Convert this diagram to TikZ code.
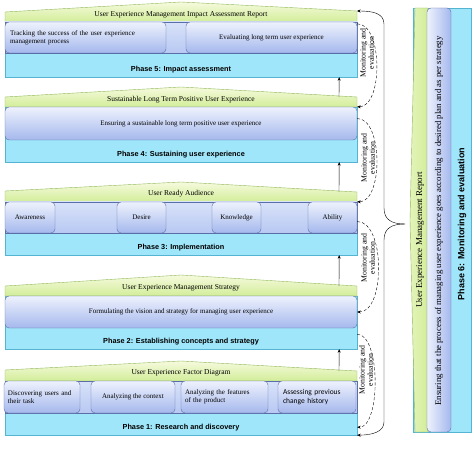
\documentclass[tikz,border=0pt]{standalone}
\usepackage{fontspec}
\setmainfont{Liberation Serif}
\newfontfamily\phasefont{Liberation Sans}
\newfontfamily\calfont{Carlito}
\usetikzlibrary{arrows.meta}

\definecolor{cyanfill}{RGB}{160,230,250}
\definecolor{cyanedge}{RGB}{85,180,210}
\definecolor{greentop}{RGB}{246,250,222}
\definecolor{greenbot}{RGB}{210,237,152}
\definecolor{greenedge}{RGB}{145,185,90}
\definecolor{boxtop}{RGB}{238,242,253}
\definecolor{boxbot}{RGB}{165,184,237}
\definecolor{boxedge}{RGB}{90,110,168}
\definecolor{bandtop}{RGB}{216,226,249}
\definecolor{bandbot}{RGB}{184,200,242}

\tikzset{
  phasebase/.style={draw=cyanedge, fill=cyanfill, inner sep=0pt},
  phasehead/.style={draw=greenedge, top color=greentop, bottom color=greenbot},
  phaseband/.style={draw=boxedge, top color=bandtop, bottom color=bandbot, inner sep=0pt},
  ubox/.style={draw=boxedge, top color=boxtop, bottom color=boxbot, rounded corners=4pt,
    inner sep=1pt, align=center, font=\fontsize{7}{8}\selectfont},
  sidebox/.style={draw=boxedge, left color=boxtop, right color=boxbot, rounded corners=4pt, inner sep=0pt},
  headtext/.style={font=\fontsize{7.5}{9}\selectfont},
  plabel/.style={font=\phasefont\bfseries\fontsize{7.3}{9}\selectfont},
  evaltext/.style={rotate=90, align=center, inner sep=0pt, font=\fontsize{7.8}{8.3}\selectfont},
  evalarc/.style={draw, densely dashed, -{Stealth[length=3.5pt,width=3pt]}},
  uparrow/.style={draw, -{Stealth[length=3.5pt,width=3pt]}},
  bracearrow/.style={draw, -{Stealth[length=3.5pt,width=3pt]}}
}

\begin{document}
\begin{tikzpicture}[x=1pt,y=-1pt]
  \useasboundingbox (0,0) rectangle (474,465);

  % Phase 6
  \node[phasebase, minimum width=58pt, minimum height=424pt] (ph6) at (442,220) {};
  \draw[draw=greenedge, left color=greentop!50!greenbot, right color=greenbot] (415,8) -- (410,220) -- (415,432) -- (428,432) -- (428,8) -- cycle;
  \node[sidebox, minimum width=24pt, minimum height=424pt] (b6) at (439,220) {};
  \node[rotate=90, font=\fontsize{9}{10}\selectfont] (r6) at (420,240) {User Experience Management Report};
  \node[rotate=90, font=\fontsize{8.8}{10}\selectfont] (e6) at (439,221) {Ensuring that the process of managing user experience goes according to desired plan and as per strategy};
  \node[rotate=90, font=\phasefont\bfseries\fontsize{9}{11}\selectfont] (l6) at (462,224) {Phase 6: Monitoring and evaluation};

  % Phase 5
  \node[phasebase, minimum width=352pt, minimum height=55pt] (ph5) at (181,49.5) {};
  \draw[phasehead] (5,12) -- (181,2) -- (357,11) coordinate (h5) -- (357,22) -- (5,22) -- cycle;
  \node[headtext] (t5) at (181,15) {User Experience Management Impact Assessment Report};
  \node[phaseband, minimum width=352pt, minimum height=31pt] (b5) at (181,37.5) {};
  \node[ubox, text width=151pt, inner xsep=5pt, minimum height=31pt, align=left] (track) at (85.5,37.5) {Tracking the success of the user experience\\management process};
  \node[ubox, minimum width=171pt, minimum height=31pt] (evalue) at (271.5,37.5) {Evaluating long term user experience};
  \node[plabel] (l5) at (181,70) {Phase 5: Impact assessment};

  % Phase 4
  \node[phasebase, minimum width=352pt, minimum height=55pt] (ph4) at (181,134.5) {};
  \draw[phasehead] (5,97) -- (181,87) -- (357,97) coordinate (h4) -- (357,107) -- (5,107) -- cycle;
  \node[headtext] (t4) at (181,99.5) {Sustainable Long Term Positive User Experience};
  \node[ubox, minimum width=352pt, minimum height=33pt] (b4) at (181,123.5) {Ensuring a sustainable long term positive user experience};
  \node[plabel] (l4) at (181,155) {Phase 4: Sustaining user experience};

  % Phase 3
  \node[phasebase, minimum width=352pt, minimum height=53pt] (ph3) at (181,228.5) {};
  \draw[phasehead] (5,191) -- (181,182) -- (357,192) coordinate (h3) -- (357,202) -- (5,202) -- cycle;
  \node[headtext] (t3) at (181,194) {User Ready Audience};
  \node[phaseband, minimum width=352pt, minimum height=31pt] (b3) at (181,217.5) {};
  \node[ubox, minimum width=50pt, minimum height=31pt] (aware) at (30,217.5) {Awareness};
  \node[ubox, minimum width=49pt, minimum height=31pt] (desire) at (141.5,217.5) {Desire};
  \node[ubox, minimum width=49pt, minimum height=31pt] (know) at (236.5,217.5) {Knowledge};
  \node[ubox, minimum width=49pt, minimum height=31pt] (able) at (332.5,217.5) {Ability};
  \node[plabel] (l3) at (181,248) {Phase 3: Implementation};

  % Phase 2
  \node[phasebase, minimum width=352pt, minimum height=53pt] (ph2) at (181,322.5) {};
  \draw[phasehead] (5,286) -- (181,275) -- (357,286) coordinate (h2) -- (357,296) -- (5,296) -- cycle;
  \node[headtext] (t2) at (181,288) {User Experience Management Strategy};
  \node[ubox, minimum width=352pt, minimum height=32pt] (b2) at (181,312) {Formulating the vision and strategy for managing user experience};
  \node[plabel] (l2) at (181,342) {Phase 2: Establishing concepts and strategy};

  % Phase 1
  \node[phasebase, minimum width=352pt, minimum height=54pt] (ph1) at (181,408) {};
  \draw[phasehead] (5,370) -- (181,361) -- (357,371) coordinate (h1) -- (357,381) -- (5,381) -- cycle;
  \node[headtext] (t1) at (181,373) {User Experience Factor Diagram};
  \node[phaseband, minimum width=352pt, minimum height=32pt] (b1) at (181,397) {};
  \node[ubox, text width=68pt, inner xsep=4pt, minimum height=32pt, align=left] (discover) at (42,397) {Discovering users and\\their task};
  \node[ubox, minimum width=84pt, minimum height=32pt] (context) at (133,397) {Analyzing the context};
  \node[ubox, text width=79pt, inner xsep=4pt, minimum height=32pt, align=left] (features) at (224.5,397) {Analyzing the features\\of the product};
  \node[ubox, text width=68pt, inner xsep=5pt, minimum height=32pt, align=left, font=\calfont\fontsize{7.5}{9}\selectfont] (assess) at (317,397) {Assessing previous\\change history};
  \node[plabel] (l1) at (181,428) {Phase 1: Research and discovery};

  % feedback brace
  \coordinate (tip) at (405,224);
  \draw[bracearrow] (tip) .. controls (392,224) and (384,220) .. (384,208) -- (384,24) .. controls (384,13) and (372,11) .. (h5);
  \draw[bracearrow] (tip) .. controls (392,224) and (384,228) .. (384,240) -- (384,422) .. controls (384,432) and (372,435) .. (ph1.south east);

  % phase to phase
  \draw[uparrow] ([xshift=-18pt]h4) -- ([xshift=-18pt]ph5.south east);
  \draw[uparrow] ([xshift=-18pt]h3) -- ([xshift=-18pt]ph4.south east);
  \draw[uparrow] ([xshift=-18pt]h2) -- ([xshift=-18pt]ph3.south east);
  \draw[uparrow] ([xshift=-18pt]h1) -- ([xshift=-18pt]ph2.south east);

  % monitoring loops
  \draw[evalarc] ([yshift=-2pt]b5.north east) to[out=0,in=0,looseness=0.8] (b4.north east);
  \draw[evalarc] ([yshift=5pt]b4.east) to[out=0,in=0,looseness=0.8] (b3.north east);
  \draw[evalarc] ([yshift=-4pt]b3.east) to[out=0,in=0,looseness=0.8] (b2.east);
  \draw[evalarc] ([yshift=-6pt]b2.south east) to[out=0,in=0,looseness=0.65] ([yshift=8pt]ph1.south east);
  \node[evaltext] (m54) at (367,53) {Monitoring and\\evaluation};
  \node[evaltext] (m43) at (368,158) {Monitoring and\\evaluation};
  \node[evaltext] (m32) at (368,258) {Monitoring and\\evaluation};
  \node[evaltext] (m21) at (366,370) {Monitoring and\\evaluation};
\end{tikzpicture}
\end{document}
